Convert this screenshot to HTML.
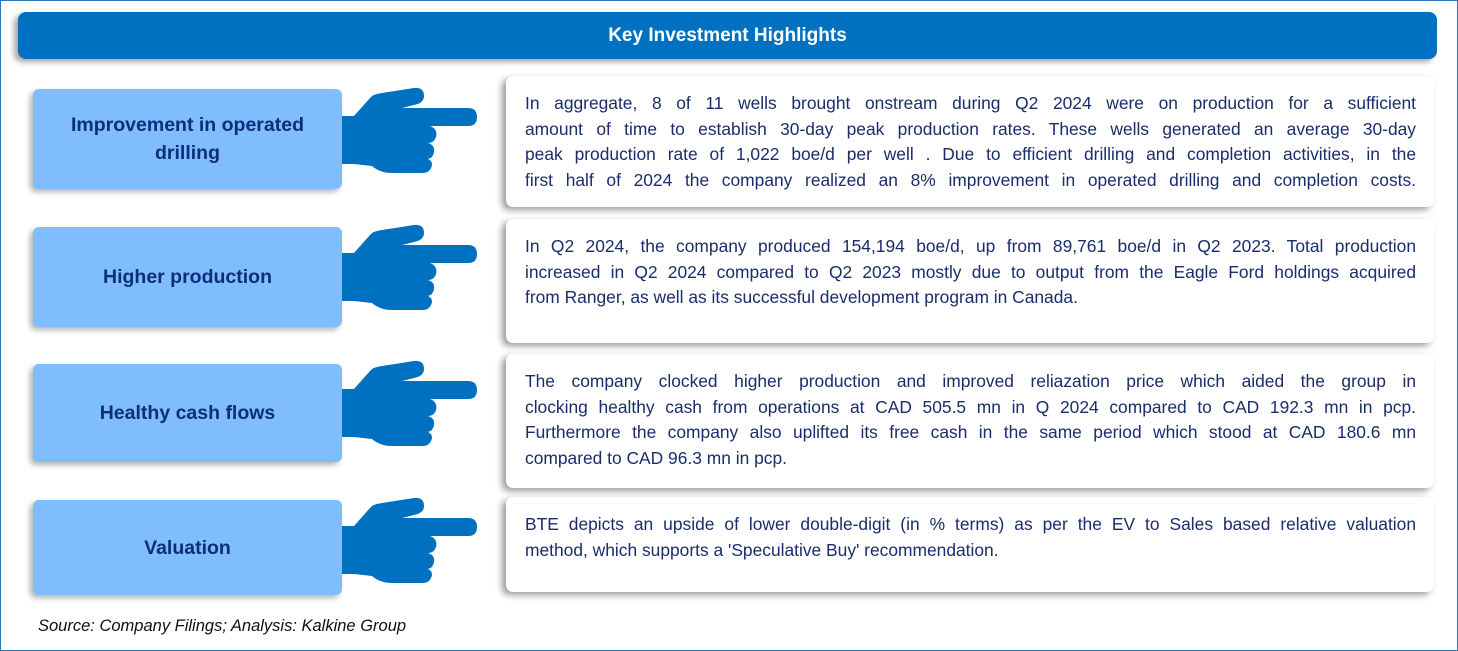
<!DOCTYPE html>
<html><head><meta charset="utf-8"><style>
body{margin:0;width:1458px;height:651px;background:#fff;position:relative;overflow:hidden;font-family:"Liberation Sans",sans-serif}
.frame{position:absolute;left:0;top:0;width:1456px;height:649px;border:1px solid #2e75b6}
.hdr{position:absolute;left:18px;top:12px;width:1419px;height:47px;background:#0070c0;border-radius:8px;box-shadow:-4px 3px 6px rgba(0,0,0,.35);color:#fff;font-weight:bold;font-size:19px;text-align:center;line-height:47px}
.lb{position:absolute;left:33px;width:309px;background:#80bdff;border-radius:6px;box-shadow:-3px 3px 6px rgba(0,0,0,.3);color:#0b2f7a;font-weight:bold;font-size:19.5px;display:flex;align-items:center;justify-content:center;text-align:center;line-height:28px}
.rb{position:absolute;left:506px;width:928px;background:#fff;border-radius:7px;box-shadow:-4px 3px 7px rgba(0,0,0,.4);color:#1a2d6b;font-size:17.4px;box-sizing:border-box;padding:15px 18px 0 19px}
.rb div{height:25.7px;line-height:25.7px;text-align:justify;text-align-last:justify;white-space:nowrap}
.rb div.l{text-align-last:left}
.hand{position:absolute;left:342px}
.src{position:absolute;left:38px;top:617px;font-style:italic;font-size:16.5px;color:#111}
</style></head><body>
<div class="frame"></div>
<div class="hdr">Key Investment Highlights</div>

<div class="lb" style="top:89px;height:100px">Improvement in operated<br>drilling</div>
<div class="lb" style="top:227px;height:100px">Higher production</div>
<div class="lb" style="top:364px;height:98px">Healthy cash flows</div>
<div class="lb" style="top:500px;height:95px">Valuation</div>

<svg class="hand" style="top:85px" width="140" height="95"><use href="#h"/></svg>
<svg class="hand" style="top:222px" width="140" height="95"><use href="#h"/></svg>
<svg class="hand" style="top:358px" width="140" height="95"><use href="#h"/></svg>
<svg class="hand" style="top:495px" width="140" height="95"><use href="#h"/></svg>
<svg width="0" height="0" style="position:absolute"><defs><g id="h" fill="#0070c0">
<rect x="0" y="31" width="16" height="48"/>
<path d="M12 31 L28 13 Q31 9 40 8 L72 3 Q82 2 82 11 Q82 18 72 20 L60 23 L126 23 Q135 23 135 32 Q135 41 126 41 L88 41 Q96 44 94 52 Q92 58 86 58 Q93 60 92 67 Q91 73 86 74 Q92 77 89 83 Q87 88 80 88 L50 88 Q38 88 30 81 L12 79 Z"/>
</g></defs></svg>

<div class="rb" style="top:76px;height:131px">
<div>In aggregate, 8 of 11 wells brought onstream during Q2 2024 were on production for a sufficient</div>
<div>amount of time to establish 30-day peak production rates. These wells generated an average 30-day</div>
<div>peak production rate of 1,022 boe/d per well . Due to efficient drilling and completion activities, in the</div>
<div>first half of 2024 the company realized an 8% improvement in operated drilling and completion costs.</div>
</div>
<div class="rb" style="top:219px;height:124px">
<div>In Q2 2024, the company produced 154,194 boe/d, up from 89,761 boe/d in Q2 2023. Total production</div>
<div>increased in Q2 2024 compared to Q2 2023 mostly due to output from the Eagle Ford holdings acquired</div>
<div class="l">from Ranger, as well as its successful development program in Canada.</div>
</div>
<div class="rb" style="top:354px;height:134px">
<div>The company clocked higher production and improved reliazation price which aided the group in</div>
<div>clocking healthy cash from operations at CAD 505.5 mn in Q 2024 compared to CAD 192.3 mn in pcp.</div>
<div>Furthermore the company also uplifted its free cash in the same period which stood at CAD 180.6 mn</div>
<div class="l">compared to CAD 96.3 mn in pcp.</div>
</div>
<div class="rb" style="top:497px;height:95px">
<div>BTE depicts an upside of lower double-digit (in % terms) as per the EV to Sales based relative valuation</div>
<div class="l">method, which supports a 'Speculative Buy' recommendation.</div>
</div>

<div class="src">Source: Company Filings; Analysis: Kalkine Group</div>
</body></html>
